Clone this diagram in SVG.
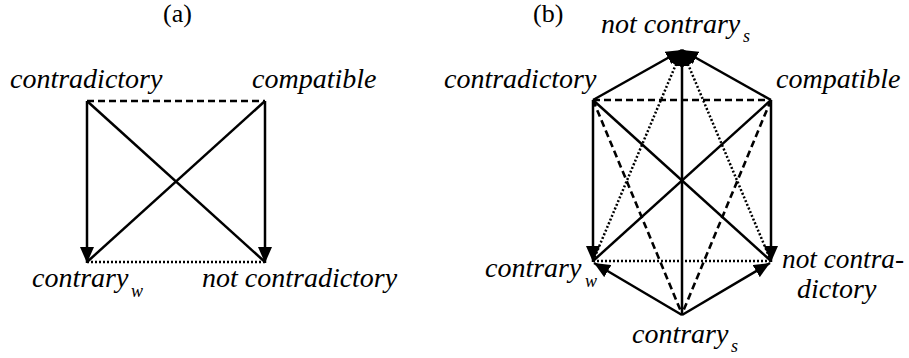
<svg xmlns="http://www.w3.org/2000/svg" width="909" height="358" viewBox="0 0 909 358">
<defs>
<style>
.lbl{font-family:"Liberation Serif","Times New Roman",serif;font-style:italic;font-size:28px;fill:#000}
.sub{font-family:"Liberation Serif","Times New Roman",serif;font-style:italic;font-size:18px;fill:#000}
.cap{font-family:"Liberation Serif","Times New Roman",serif;font-size:26px;fill:#000}
.s{stroke:#000;stroke-width:2.5;fill:none}
.d{stroke:#000;stroke-width:2.6;fill:none;stroke-dasharray:7 4}
.o{stroke:#000;stroke-width:2.5;fill:none;stroke-dasharray:2 2}
</style>
<marker id="ah" markerUnits="userSpaceOnUse" markerWidth="16" markerHeight="14" refX="16" refY="7" orient="auto">
<path d="M0,0 L16,7 L0,14 z" fill="#000"/>
</marker>
</defs>
<text class="cap" x="163" y="22">(a)</text>
<text class="cap" x="533" y="22">(b)</text>
<g id="connectors">
<line class="d" x1="87" y1="101" x2="265" y2="101"/>
<line class="o" x1="87" y1="262" x2="265" y2="262"/>
<line class="s" x1="87" y1="101" x2="87" y2="263" marker-end="url(#ah)"/>
<line class="s" x1="265" y1="101" x2="265" y2="263" marker-end="url(#ah)"/>
<line class="s" x1="87" y1="101" x2="265" y2="262"/>
<line class="s" x1="265" y1="101" x2="87" y2="262"/>

<line class="d" x1="593" y1="100" x2="771" y2="100"/>
<line class="o" x1="593" y1="261" x2="771" y2="261"/>
<line class="s" x1="593" y1="100" x2="593" y2="262" marker-end="url(#ah)"/>
<line class="s" x1="771" y1="100" x2="771" y2="262" marker-end="url(#ah)"/>
<line class="s" x1="593" y1="100" x2="771" y2="261"/>
<line class="s" x1="771" y1="100" x2="593" y2="261"/>
<line class="s" x1="593" y1="100" x2="682" y2="50" marker-end="url(#ah)"/>
<line class="s" x1="771" y1="100" x2="682" y2="50" marker-end="url(#ah)"/>
<line class="s" x1="682" y1="315" x2="682" y2="50" marker-end="url(#ah)"/>
<line class="o" x1="593" y1="261" x2="682" y2="50" marker-end="url(#ah)"/>
<line class="o" x1="771" y1="261" x2="682" y2="50" marker-end="url(#ah)"/>
<line class="d" x1="593" y1="100" x2="682" y2="314"/>
<line class="d" x1="771" y1="100" x2="682" y2="314"/>
<line class="s" x1="682" y1="315" x2="594" y2="263" marker-end="url(#ah)"/>
<line class="s" x1="682" y1="315" x2="770" y2="263" marker-end="url(#ah)"/>
</g>
<g id="a-contradictory"><text class="lbl" x="10" y="88">contradictory</text></g>
<g id="a-compatible"><text class="lbl" x="252" y="88">compatible</text></g>
<g id="a-contrary-w"><text class="lbl" x="32" y="287">contrary</text><text class="sub" x="131" y="297">w</text></g>
<g id="a-not-contradictory"><text class="lbl" x="202" y="287">not contradictory</text></g>

<g id="b-not-contrary-s"><text class="lbl" x="601" y="33">not contrary</text><text class="sub" x="743" y="42">s</text></g>
<g id="b-contradictory"><text class="lbl" x="444" y="88">contradictory</text></g>
<g id="b-compatible"><text class="lbl" x="776" y="88">compatible</text></g>
<g id="b-contrary-w"><text class="lbl" x="485" y="277">contrary</text><text class="sub" x="585" y="287">w</text></g>
<g id="b-not-contradictory"><text class="lbl" x="782" y="268" textLength="122" lengthAdjust="spacingAndGlyphs">not contra-</text><text class="lbl" x="797" y="298">dictory</text></g>
<g id="b-contrary-s"><text class="lbl" x="632" y="343">contrary</text><text class="sub" x="731" y="352">s</text></g>
</svg>
